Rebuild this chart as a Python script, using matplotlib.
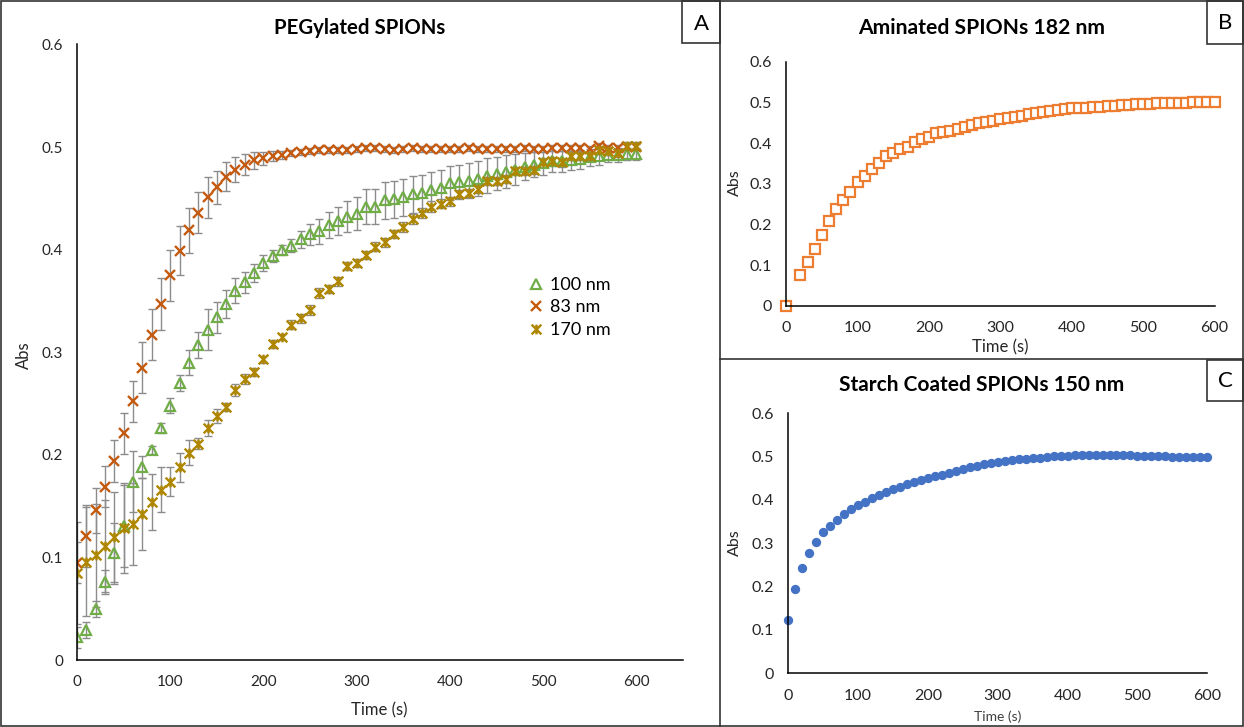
import matplotlib
matplotlib.use('Agg')
import matplotlib.pyplot as plt
from matplotlib.path import Path
from matplotlib.patches import Rectangle
from matplotlib.lines import Line2D

plt.rcParams['font.family'] = ['Lato', 'DejaVu Sans']

## Absorbance kinetics data

# PEGylated SPIONs, sampled every 10 s
time_a = list(range(0, 610, 10))

abs_100 = [0.022, 0.029, 0.050, 0.076, 0.104, 0.131, 0.174, 0.188, 0.205, 0.226,
           0.248, 0.270, 0.290, 0.307, 0.322, 0.334, 0.347, 0.360, 0.368, 0.377,
           0.387, 0.394, 0.400, 0.404, 0.410, 0.415, 0.418, 0.424, 0.428, 0.432,
           0.435, 0.442, 0.442, 0.448, 0.449, 0.451, 0.454, 0.455, 0.458, 0.460,
           0.465, 0.466, 0.467, 0.469, 0.472, 0.474, 0.476, 0.478, 0.481, 0.483,
           0.484, 0.486, 0.486, 0.487, 0.488, 0.490, 0.491, 0.492, 0.492, 0.493,
           0.493]
err_100 = [0.010, 0.008, 0.008, 0.012, 0.030, 0.040, 0.030, 0.011, 0.004, 0.005,
           0.007, 0.008, 0.012, 0.013, 0.020, 0.015, 0.014, 0.012, 0.010, 0.009,
           0.008, 0.006, 0.005, 0.006, 0.008, 0.010, 0.012, 0.013, 0.014, 0.015,
           0.016, 0.017, 0.017, 0.018, 0.018, 0.018, 0.018, 0.018, 0.018, 0.018,
           0.017, 0.017, 0.017, 0.017, 0.017, 0.016, 0.016, 0.015, 0.013, 0.012,
           0.011, 0.010, 0.010, 0.009, 0.009, 0.008, 0.008, 0.007, 0.007, 0.006,
           0.006]

abs_83 = [0.095, 0.121, 0.146, 0.169, 0.194, 0.221, 0.252, 0.285, 0.317, 0.347,
          0.375, 0.399, 0.419, 0.436, 0.451, 0.461, 0.471, 0.478, 0.483, 0.487,
          0.489, 0.491, 0.492, 0.494, 0.495, 0.496, 0.497, 0.497, 0.497, 0.497,
          0.498, 0.499, 0.499, 0.498, 0.497, 0.498, 0.499, 0.498, 0.498, 0.498,
          0.498, 0.498, 0.499, 0.498, 0.498, 0.498, 0.498, 0.498, 0.499, 0.498,
          0.498, 0.499, 0.499, 0.499, 0.499, 0.498, 0.501, 0.499, 0.499, 0.500,
          0.500]
err_83 = [0.020, 0.030, 0.022, 0.020, 0.020, 0.020, 0.020, 0.025, 0.025, 0.025,
          0.025, 0.024, 0.022, 0.020, 0.020, 0.016, 0.014, 0.012, 0.010, 0.008,
          0.006, 0.005, 0.004, 0.003, 0.003, 0.003, 0.003, 0.003, 0.003, 0.003,
          0.003, 0.003, 0.003, 0.003, 0.003, 0.003, 0.003, 0.003, 0.003, 0.003,
          0.003, 0.003, 0.003, 0.003, 0.003, 0.003, 0.003, 0.003, 0.003, 0.003,
          0.003, 0.003, 0.003, 0.003, 0.003, 0.003, 0.003, 0.003, 0.003, 0.003,
          0.003]

abs_170 = [0.085, 0.096, 0.102, 0.111, 0.120, 0.129, 0.133, 0.142, 0.154, 0.166,
           0.174, 0.188, 0.202, 0.211, 0.226, 0.238, 0.247, 0.263, 0.274, 0.281,
           0.293, 0.308, 0.315, 0.327, 0.333, 0.341, 0.358, 0.362, 0.369, 0.384,
           0.387, 0.395, 0.403, 0.407, 0.415, 0.422, 0.430, 0.436, 0.442, 0.445,
           0.447, 0.454, 0.455, 0.459, 0.467, 0.467, 0.469, 0.477, 0.477, 0.478,
           0.485, 0.486, 0.485, 0.491, 0.491, 0.491, 0.497, 0.496, 0.494, 0.501,
           0.501]
err_170 = [0.050, 0.053, 0.050, 0.045, 0.044, 0.044, 0.040, 0.035, 0.027, 0.022,
           0.014, 0.014, 0.012, 0.005, 0.008, 0.007, 0.004, 0.006, 0.005, 0.004,
           0.003, 0.004, 0.003, 0.004, 0.004, 0.005, 0.005, 0.004, 0.004, 0.004,
           0.004, 0.004, 0.004, 0.004, 0.004, 0.005, 0.005, 0.005, 0.005, 0.004,
           0.004, 0.004, 0.004, 0.004, 0.004, 0.004, 0.004, 0.004, 0.004, 0.004,
           0.004, 0.004, 0.004, 0.004, 0.004, 0.004, 0.004, 0.004, 0.004, 0.004,
           0.004]

# Aminated SPIONs 182 nm
time_b = [0] + list(range(20, 610, 10))
abs_182 = [0.000,
           0.075, 0.108, 0.139, 0.175, 0.209, 0.238, 0.260, 0.280, 0.303, 0.320,
           0.335, 0.350, 0.367, 0.376, 0.385, 0.391, 0.403, 0.409, 0.416, 0.424,
           0.426, 0.430, 0.435, 0.440, 0.444, 0.449, 0.452, 0.453, 0.458, 0.462,
           0.465, 0.467, 0.471, 0.473, 0.476, 0.480, 0.481, 0.484, 0.485, 0.486,
           0.487, 0.488, 0.489, 0.491, 0.492, 0.493, 0.494, 0.495, 0.496, 0.497,
           0.498, 0.499, 0.499, 0.499, 0.499, 0.500, 0.500, 0.500, 0.500]
err_182 = [0.003,
           0.003, 0.003, 0.003, 0.005, 0.006, 0.006, 0.006, 0.006, 0.006, 0.006,
           0.006, 0.006, 0.005, 0.004, 0.003, 0.003, 0.003, 0.003, 0.003, 0.003,
           0.003, 0.003, 0.003, 0.003, 0.003, 0.003, 0.003, 0.003, 0.003, 0.003,
           0.003, 0.003, 0.003, 0.003, 0.003, 0.003, 0.003, 0.003, 0.003, 0.003,
           0.003, 0.003, 0.003, 0.003, 0.003, 0.003, 0.003, 0.003, 0.003, 0.003,
           0.003, 0.003, 0.003, 0.003, 0.003, 0.003, 0.003, 0.003, 0.003]

# Starch coated SPIONs 150 nm
time_c = list(range(0, 610, 10))
abs_150 = [0.123, 0.194, 0.242, 0.277, 0.304, 0.325, 0.341, 0.354, 0.368, 0.379,
           0.388, 0.395, 0.404, 0.412, 0.418, 0.425, 0.431, 0.436, 0.441, 0.445,
           0.450, 0.455, 0.458, 0.463, 0.467, 0.472, 0.475, 0.478, 0.482, 0.485,
           0.488, 0.490, 0.492, 0.494, 0.495, 0.497, 0.498, 0.500, 0.501, 0.501,
           0.502, 0.503, 0.503, 0.503, 0.503, 0.503, 0.503, 0.503, 0.503, 0.503,
           0.502, 0.502, 0.501, 0.501, 0.501, 0.500, 0.500, 0.500, 0.500, 0.500,
           0.500]

y_ticks = [0, 0.1, 0.2, 0.3, 0.4, 0.5, 0.6]
y_tick_labels = ['0', '0.1', '0.2', '0.3', '0.4', '0.5', '0.6']
x_ticks = [0, 100, 200, 300, 400, 500, 600]
x_tick_labels = ['0', '100', '200', '300', '400', '500', '600']

## Figure layout (pixel geometry of a 1244x727 canvas)

W, H = 1244, 727
fig = plt.figure(figsize=(W / 100, H / 100), dpi=100)
fig.patch.set_facecolor('white')


def px_axes(left, top, right, bottom):
    return fig.add_axes([left / W, 1 - bottom / H, (right - left) / W, (bottom - top) / H])


def fig_text(x, y, s, **kw):
    fig.text(x / W, 1 - y / H, s, ha='center', va='center', **kw)


def style_axes(ax, xmax, fs):
    ax.set_xlim(0, xmax)
    ax.set_ylim(0, 0.6)
    ax.set_yticks(y_ticks)
    ax.set_yticklabels(y_tick_labels)
    ax.set_xticks(x_ticks)
    ax.set_xticklabels(x_tick_labels)
    for side in ['top', 'right']:
        ax.spines[side].set_visible(False)
    for side in ['left', 'bottom']:
        ax.spines[side].set_color('black')
        ax.spines[side].set_linewidth(1.1)
    ax.tick_params(axis='both', length=0, labelsize=fs, colors='#262626')
    ax.tick_params(axis='y', pad=10)
    ax.tick_params(axis='x', pad=11)
    ax.set_facecolor('none')


grey = '#8c8c8c'
gold = '#AE8600'

# star marker: an X crossed by a vertical stroke
star = Path([(-1, -1), (1, 1), (-1, 1), (1, -1), (0, -1), (0, 1)],
            [Path.MOVETO, Path.LINETO, Path.MOVETO, Path.LINETO, Path.MOVETO, Path.LINETO])

## Panel A

ax_a = px_axes(77, 44.5, 683, 660)
ax_a.errorbar(time_a, abs_100, yerr=err_100, fmt='none', ecolor=grey, elinewidth=1, capsize=3, capthick=1)
ax_a.errorbar(time_a, abs_83, yerr=err_83, fmt='none', ecolor=grey, elinewidth=1, capsize=3, capthick=1)
ax_a.errorbar(time_a, abs_170, yerr=err_170, fmt='none', ecolor=grey, elinewidth=1, capsize=3, capthick=1)
l100, = ax_a.plot(time_a, abs_100, linestyle='none', marker='^', markersize=7,
                  markerfacecolor='none', markeredgecolor='#70AD47', markeredgewidth=1.6, label='100 nm')
l83, = ax_a.plot(time_a, abs_83, linestyle='none', marker='x', markersize=7,
                 markeredgecolor='#C55A11', markeredgewidth=1.7, label='83 nm')
l170, = ax_a.plot(time_a, abs_170, linestyle='none', marker=star, markersize=7,
                  markeredgecolor=gold, markerfacecolor=gold, markeredgewidth=1.7, label='170 nm')
style_axes(ax_a, 650, 11)
ax_a.legend(handles=[l100, l83, l170], loc='upper left', bbox_to_anchor=(530 / W, 1 - 277 / H),
            bbox_transform=fig.transFigure, frameon=False, fontsize=13, handlelength=0.7,
            handletextpad=0.4, labelspacing=0.36, numpoints=1, borderpad=0, borderaxespad=0)
fig_text(360, 28, 'PEGylated SPIONs', fontsize=14.7, fontweight='bold')
fig_text(379, 710, 'Time (s)', fontsize=12, color='#262626')
fig_text(24, 355, 'Abs', fontsize=12, rotation=90, color='#262626')

## Panel B

ax_b = px_axes(786.2, 61.7, 1214.6, 305.7)
ax_b.errorbar(time_b, abs_182, yerr=err_182, fmt='none', ecolor=grey, elinewidth=1, capsize=3, capthick=1)
ax_b.plot(time_b, abs_182, linestyle='none', marker='s', markersize=6.5,
          markerfacecolor='white', markeredgecolor='#ED7D31', markeredgewidth=1.6, clip_on=False)
style_axes(ax_b, 600, 11.5)
fig_text(982, 28, 'Aminated SPIONs 182 nm', fontsize=15.2, fontweight='bold')
fig_text(1000, 347, 'Time (s)', fontsize=12, color='#262626')
fig_text(735, 183, 'Abs', fontsize=11.5, rotation=90, color='#262626')

## Panel C

ax_c = px_axes(788.2, 413.3, 1207.3, 673.3)
ax_c.plot(time_c, abs_150, linestyle='none', marker='o', markersize=5.7,
          markerfacecolor='#4472C4', markeredgecolor='#4472C4', clip_on=False)
style_axes(ax_c, 600, 11.5)
fig_text(982, 385, 'Starch Coated SPIONs 150 nm', fontsize=15, fontweight='bold')
fig_text(998, 717, 'Time (s)', fontsize=10, color='#404040')
fig_text(735, 543, 'Abs', fontsize=11.5, rotation=90, color='#262626')

## Panel frames and letter boxes

frame = '#333333'
fig.add_artist(Rectangle((1 / W, 1 / H), (W - 2) / W, (H - 2) / H, transform=fig.transFigure,
                         fill=False, edgecolor=frame, linewidth=1.2))
fig.add_artist(Line2D([719.5 / W, 719.5 / W], [0, 1], transform=fig.transFigure, color=frame, linewidth=1.2))
fig.add_artist(Line2D([719.5 / W, 1], [1 - 359.5 / H, 1 - 359.5 / H], transform=fig.transFigure,
                      color=frame, linewidth=1.2))

for (x0, y0, x1, y1, letter, cx, cy) in [(682.3, 1, 719.5, 43, 'A', 701, 24),
                                          (1207, 1, 1243, 44, 'B', 1225, 23),
                                          (1207, 359.5, 1243, 401, 'C', 1225.5, 381)]:
    fig.add_artist(Rectangle((x0 / W, 1 - y1 / H), (x1 - x0) / W, (y1 - y0) / H,
                             transform=fig.transFigure, fill=False, edgecolor=frame, linewidth=1.2))
    fig_text(cx, cy, letter, fontsize=16)

fig.savefig('out.png', dpi=100)
